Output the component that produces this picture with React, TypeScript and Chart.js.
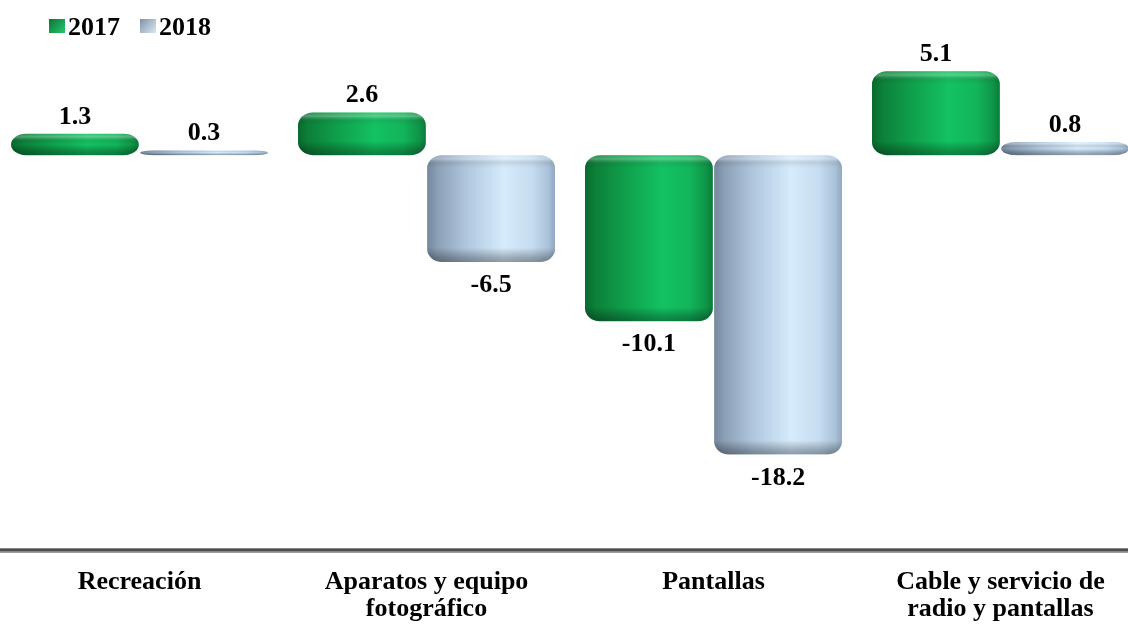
import React, { useEffect, useRef } from 'react';
import { Chart, registerables } from 'chart.js';

Chart.register(...registerables);

// Categories (multi-line labels) and the two yearly series
const categories: string[][] = [
  ['Recreación'],
  ['Aparatos y equipo', 'fotográfico'],
  ['Pantallas'],
  ['Cable y servicio de', 'radio y pantallas'],
];
const seriesNames = ['2017', '2018'];
const values2017 = [1.3, 2.6, -10.1, 5.1];
const values2018 = [0.3, -6.5, -18.2, 0.8];
const yMin = -24;
const yMax = 7;

const FONT = '"Liberation Serif", "Times New Roman", serif';

type Palette = {
  base: string;
  body: [number, string][];
  legend: [string, string];
};

const palettes: Palette[] = [
  {
    base: '#10a84f',
    body: [
      [0, '#096a2f'],
      [0.08, '#0c8039'],
      [0.3, '#0f9e4a'],
      [0.6, '#13c262'],
      [0.82, '#12b55a'],
      [0.95, '#0e9447'],
      [1, '#0b7a3a'],
    ],
    legend: ['#0a7434', '#25c86c'],
  },
  {
    base: '#b8d0e6',
    body: [
      [0, '#74879c'],
      [0.08, '#8b9fb5'],
      [0.3, '#afc6dd'],
      [0.6, '#d6ebfb'],
      [0.82, '#c6dcf0'],
      [0.95, '#a9c1d8'],
      [1, '#91a8c0'],
    ],
    legend: ['#7f93a8', '#dbe8f3'],
  },
];

function cylinderPath(
  ctx: CanvasRenderingContext2D,
  l: number,
  t: number,
  w: number,
  h: number,
  rx: number,
  ry: number
) {
  ctx.beginPath();
  ctx.moveTo(l + rx, t);
  ctx.lineTo(l + w - rx, t);
  ctx.ellipse(l + w - rx, t + ry, rx, ry, 0, -Math.PI / 2, 0);
  ctx.lineTo(l + w, t + h - ry);
  ctx.ellipse(l + w - rx, t + h - ry, rx, ry, 0, 0, Math.PI / 2);
  ctx.lineTo(l + rx, t + h);
  ctx.ellipse(l + rx, t + h - ry, rx, ry, 0, Math.PI / 2, Math.PI);
  ctx.lineTo(l, t + ry);
  ctx.ellipse(l + rx, t + ry, rx, ry, 0, Math.PI, Math.PI * 1.5);
  ctx.closePath();
}

const clamp01 = (v: number) => Math.max(0, Math.min(1, v));

// Paints each bar element as a shaded cylinder, then its value label
const cylinderPlugin = {
  id: 'cylinders',
  afterDatasetsDraw(chart: any) {
    const ctx: CanvasRenderingContext2D = chart.ctx;
    chart.data.datasets.forEach((ds: any, di: number) => {
      const meta = chart.getDatasetMeta(di);
      const pal = palettes[di];
      meta.data.forEach((el: any, i: number) => {
        const { x, y, base, width } = el.getProps(['x', 'y', 'base', 'width'], true);
        const l = x - width / 2;
        const t = Math.min(y, base);
        const h = Math.max(Math.abs(base - y), 1);
        const rx = Math.min(15, width / 2);
        const ry = Math.min(13, h / 2);

        ctx.save();
        cylinderPath(ctx, l, t, width, h, rx, ry);
        const hg = ctx.createLinearGradient(l, 0, l + width, 0);
        pal.body.forEach(([o, c]) => hg.addColorStop(o, c));
        ctx.fillStyle = hg;
        ctx.fill();

        ctx.clip();
        const vg = ctx.createLinearGradient(0, t, 0, t + h);
        const a = clamp01((0.3 * ry) / h);
        const b = clamp01(ry / h);
        const c = clamp01((h - 1.1 * ry) / h);
        const d = clamp01((h - 0.35 * ry) / h);
        vg.addColorStop(0, 'rgba(255,255,255,0.12)');
        vg.addColorStop(a, 'rgba(255,255,255,0.28)');
        vg.addColorStop(Math.max(a, b * 0.75), 'rgba(0,0,0,0.04)');
        vg.addColorStop(Math.max(a, b), 'rgba(0,0,0,0)');
        vg.addColorStop(Math.max(b, c), 'rgba(0,0,0,0)');
        vg.addColorStop(Math.max(b, d), 'rgba(0,0,0,0.26)');
        vg.addColorStop(1, 'rgba(0,0,0,0.34)');
        ctx.fillStyle = vg;
        ctx.fillRect(l, t, width, h);
        ctx.restore();

        const v = ds.data[i] as number;
        ctx.save();
        ctx.fillStyle = '#000';
        ctx.font = `bold 26px ${FONT}`;
        ctx.textAlign = 'center';
        ctx.textBaseline = 'alphabetic';
        const txt = v.toFixed(1);
        if (v >= 0) {
          ctx.fillText(txt, x, t - 10);
        } else {
          ctx.fillText(txt, x, t + h + 30);
        }
        ctx.restore();
      });
    });
  },
  afterDraw(chart: any) {
    const ctx: CanvasRenderingContext2D = chart.ctx;
    const xs = chart.scales.x;

    // darker core of the category axis line
    ctx.save();
    ctx.strokeStyle = '#4d4d4d';
    ctx.lineWidth = 2.5;
    ctx.beginPath();
    ctx.moveTo(chart.chartArea.left, xs.top);
    ctx.lineTo(chart.chartArea.right, xs.top);
    ctx.stroke();
    ctx.restore();

    // category labels
    ctx.save();
    ctx.fillStyle = '#000';
    ctx.font = `bold 26px ${FONT}`;
    ctx.textAlign = 'center';
    ctx.textBaseline = 'alphabetic';
    (chart.data.labels as string[][]).forEach((lines, i) => {
      const cx = xs.getPixelForValue(i);
      lines.forEach((line, k) => {
        ctx.fillText(line, cx, xs.top + 39 + k * 27);
      });
    });
    ctx.restore();

    // legend
    ctx.save();
    ctx.font = `bold 26px ${FONT}`;
    ctx.textBaseline = 'alphabetic';
    ctx.textAlign = 'left';
    let lx = 53;
    chart.data.datasets.forEach((ds: any, di: number) => {
      const pal = palettes[di];
      const g = ctx.createLinearGradient(lx, 19, lx + 16, 33);
      g.addColorStop(0, pal.legend[0]);
      g.addColorStop(1, pal.legend[1]);
      ctx.fillStyle = g;
      ctx.fillRect(lx, 19, 16, 14);
      ctx.fillStyle = '#000';
      const label = ds.label as string;
      ctx.fillText(label, lx + 19, 35);
      lx += 19 + ctx.measureText(label).width + 20;
    });
    ctx.restore();
  },
};

export default function App() {
  const canvasRef = useRef<HTMLCanvasElement>(null);

  useEffect(() => {
    const canvas = canvasRef.current;
    if (!canvas) return;
    const chart = new Chart(canvas, {
      type: 'bar',
      data: {
        labels: categories,
        datasets: [
          {
            label: seriesNames[0],
            data: values2017,
            backgroundColor: 'rgba(0,0,0,0)',
            borderWidth: 0,
          },
          {
            label: seriesNames[1],
            data: values2018,
            backgroundColor: 'rgba(0,0,0,0)',
            borderWidth: 0,
          },
        ],
      },
      options: {
        responsive: false,
        animation: false,
        devicePixelRatio: 1,
        categoryPercentage: 0.9,
        barPercentage: 0.99,
        layout: { padding: { top: 40, bottom: 75, left: 0, right: 0 } },
        plugins: {
          legend: { display: false },
          tooltip: { enabled: false },
        },
        scales: {
          x: {
            grid: { display: false, drawTicks: false },
            ticks: { display: false },
            border: { display: true, color: '#9c9c9c', width: 5 },
          },
          y: {
            display: false,
            min: yMin,
            max: yMax,
          },
        },
      },
      plugins: [cylinderPlugin],
    });
    return () => chart.destroy();
  }, []);

  return (
    <div
      style={{
        position: 'fixed',
        left: 0,
        top: 0,
        width: 1128,
        height: 625,
        overflow: 'hidden',
        background: '#ffffff',
      }}
    >
      <canvas
        ref={canvasRef}
        width={1148}
        height={625}
        style={{ position: 'absolute', left: -4, top: 0, width: 1148, height: 625 }}
      />
    </div>
  );
}
